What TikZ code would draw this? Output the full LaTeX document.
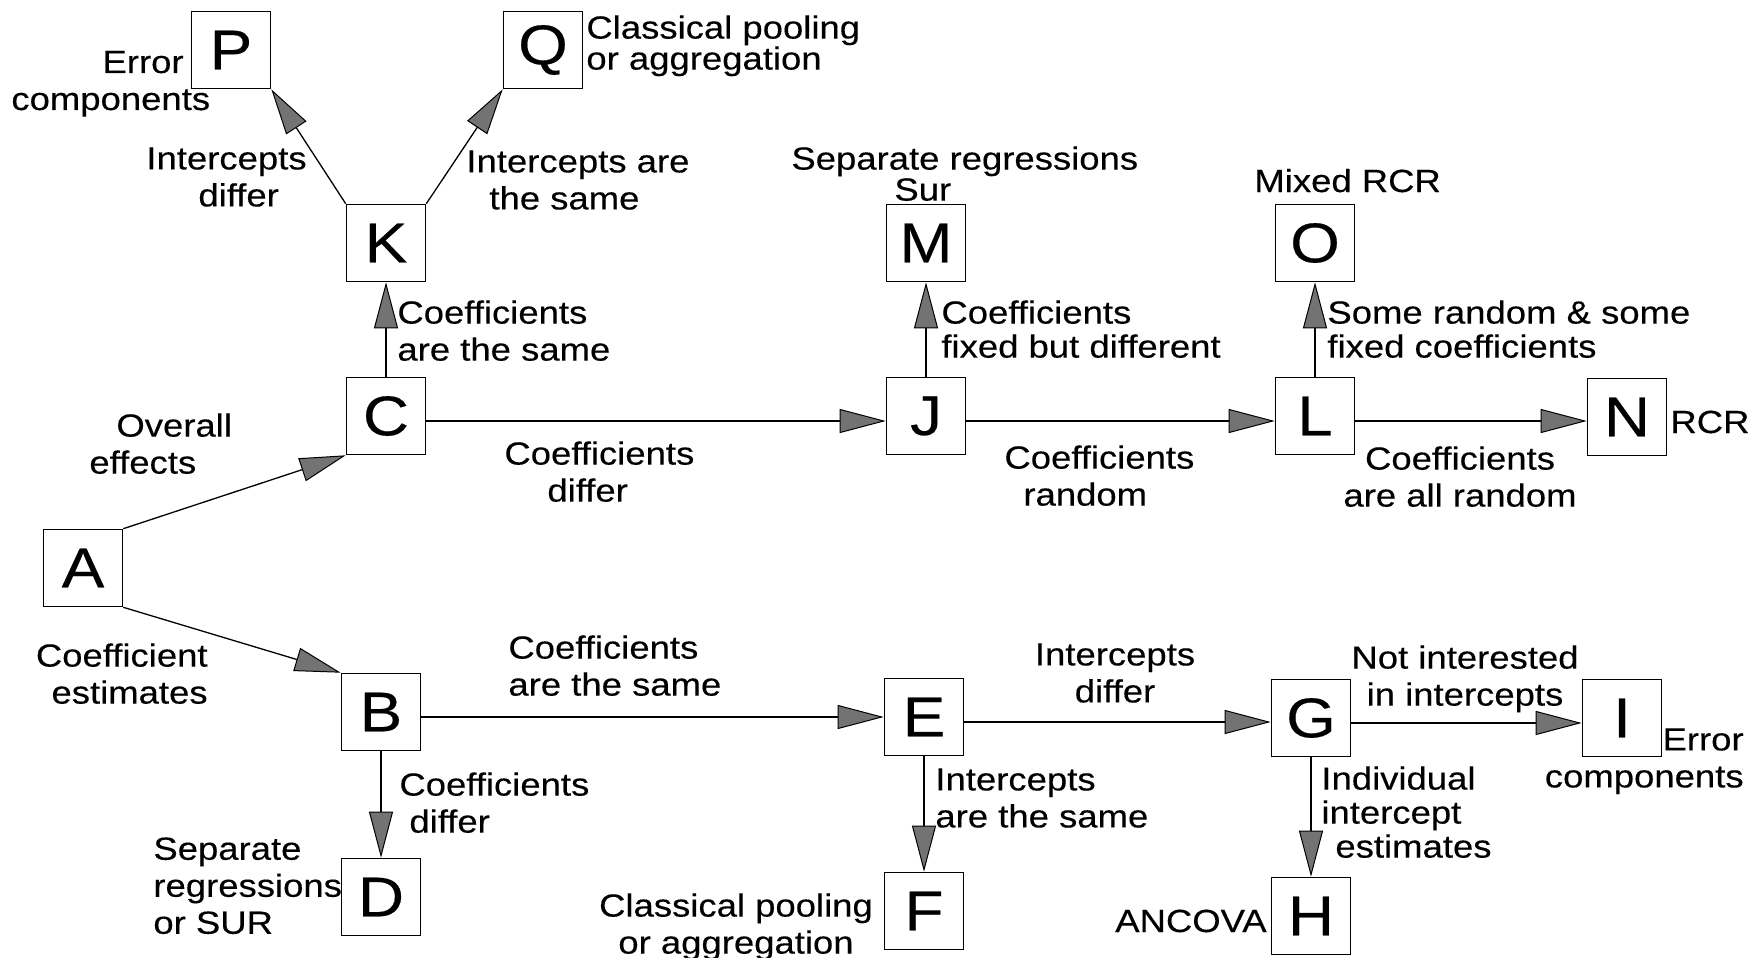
\documentclass[tikz,border=0pt]{standalone}
\usepackage{fontspec}
\setmainfont{Liberation Sans}[FakeStretch=1.14,FakeBold=0.3]
\usetikzlibrary{arrows.meta}
\newcommand\labfont{\fontsize{16pt}{18.5pt}\selectfont}
\newcommand\boxfont{\fontsize{28pt}{30pt}\selectfont}
\begin{document}
\begin{tikzpicture}[x=0.5pt,y=-0.5pt,
  box/.style={draw, line width=0.8pt, minimum width=39.5pt, minimum height=38.5pt, inner sep=0pt, font=\boxfont},
  lab/.style={inner sep=0pt, font=\labfont, align=left},
  tight/.style={font=\fontsize{16pt}{15.5pt}\selectfont},
  mid/.style={font=\fontsize{16pt}{17pt}\selectfont},
  arr/.style={line width=0.65pt, -{Triangle[length=23pt,width=12pt,fill=black!55,line width=0.5pt]}},
  dn/.style={yshift=-2.5pt}]
\useasboundingbox (0,0) rectangle (1764,957);
% boxes
\node[box] (P) at (231,50) {P};
\node[box] (Q) at (543,50) {Q};
\node[box] (K) at (386,243) {K};
\node[box] (C) at (386,416) {C};
\node[box] (A) at (83,568) {A};
\node[box] (B) at (381,712) {B};
\node[box] (D) at (381,897) {D};
\node[box] (E) at (924,717) {E};
\node[box] (F) at (924,911) {F};
\node[box] (G) at (1311,718) {G};
\node[box] (H) at (1311,916) {H};
\node[box] (I) at (1622,718) {I};
\node[box] (J) at (926,416) {J};
\node[box] (M) at (926,243) {M};
\node[box] (L) at (1315,416) {L};
\node[box] (O) at (1315,243) {O};
\node[box] (N) at (1627,417) {N};
% connectors
\draw[arr] (A.north east) -- (C.south west);
\draw[arr] (A.south east) -- (B.north west);
\draw[arr] (C.north) -- (K.south);
\draw[arr] (K.north west) -- (P.south east);
\draw[arr] (K.north east) -- (Q.south west);
\draw[arr] ([dn]C.east) -- ([dn]C.east -| J.west);
\draw[arr] (J.north) -- (M.south);
\draw[arr] ([dn]J.east) -- ([dn]J.east -| L.west);
\draw[arr] (L.north) -- (O.south);
\draw[arr] ([dn]L.east) -- ([dn]L.east -| N.west);
\draw[arr] ([dn]B.east) -- ([dn]B.east -| E.west);
\draw[arr] (B.south) -- (D.north);
\draw[arr] ([dn]E.east) -- ([dn]E.east -| G.west);
\draw[arr] (E.south) -- (F.north);
\draw[arr] ([dn]G.east) -- ([dn]G.east -| I.west);
\draw[arr] (G.south) -- (H.north);
% labels
\node[lab, anchor=base east] (tP1) at (184,73) {Error};
\node[lab, anchor=base west] (tP2) at (11,110) {components};
\node[lab, tight, anchor=north west] (tQ) at (586,15) {Classical pooling\\or aggregation};
\node[lab, anchor=north west] (tKP) at (146,147) {Intercepts\\\hspace*{26pt}differ};
\node[lab, anchor=north west] (tKQ) at (466,150) {Intercepts are\\\hspace*{11.5pt}the same};
\node[lab, anchor=north west] (tCK) at (397,300) {Coefficients\\are the same};
\node[lab, anchor=north west] (tAC) at (89,413) {\hspace*{13.5pt}Overall\\effects};
\node[lab, anchor=north west] (tCJ) at (504,441) {Coefficients\\\hspace*{21.5pt}differ};
\node[lab, anchor=north east, align=right] (tAB) at (208,643) {Coefficient\\estimates};
\node[lab, anchor=north west] (tBE) at (508,635) {Coefficients\\are the same};
\node[lab, anchor=north west] (tBD) at (399,772) {Coefficients\\\hspace*{5pt}differ};
\node[lab, anchor=north west] (tD) at (153,837) {Separate\\regressions\\or SUR};
\node[lab, anchor=north, align=center] (tF) at (736,893) {Classical pooling\\or aggregation};
\node[lab, anchor=north west] (tEF) at (935,768) {Intercepts\\are the same};
\node[lab, anchor=north, align=center] (tEG) at (1115,643) {Intercepts\\differ};
\node[lab, anchor=north, align=center] (tGI) at (1465,645) {Not interested\\in intercepts};
\node[lab, anchor=north east, align=right] (tI) at (1744,728) {Error\\components};
\node[lab, mid, anchor=north west] (tGH) at (1321,766) {Individual\\intercept\\\hspace*{7pt}estimates};
\node[lab, anchor=base east] (tH) at (1267,932) {ANCOVA};
\node[lab, tight, anchor=north west] (tM) at (791,146) {Separate regressions\\\hspace*{51.5pt}Sur};
\node[lab, mid, anchor=north west] (tJM) at (941,300) {Coefficients\\fixed but different};
\node[lab, anchor=base west] (tO) at (1254,192) {Mixed RCR};
\node[lab, mid, anchor=north west] (tLO) at (1327,300) {Some random \& some\\fixed coefficients};
\node[lab, anchor=base west] (tN) at (1670,433) {RCR};
\node[lab, anchor=north west] (tJL) at (1004,445) {Coefficients\\\hspace*{9.5pt}random};
\node[lab, anchor=north, align=center] (tLN) at (1460,446) {Coefficients\\are all random};
\end{tikzpicture}
\end{document}
